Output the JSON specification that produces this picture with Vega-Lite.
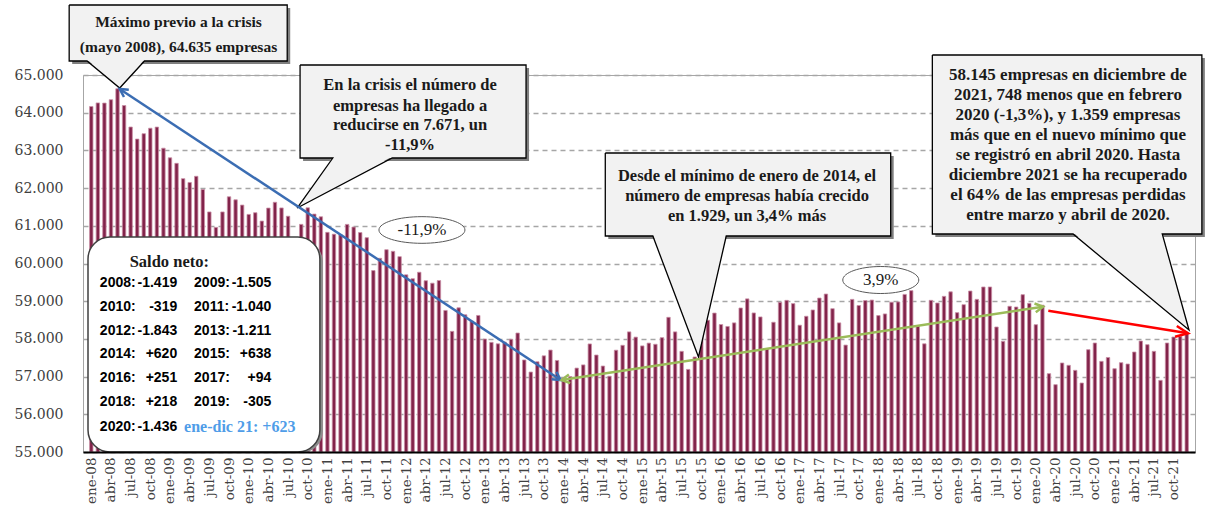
{
  "$schema": "https://vega.github.io/schema/vega-lite/v6.json",
  "width": 1112,
  "height": 377,
  "autosize": {"type": "none"},
  "padding": {"left": 83, "top": 75, "right": 16, "bottom": 62},
  "background": "white",
  "config": {"view": {"stroke": "#a6a6a6", "strokeWidth": 1}, "font": "DejaVu Serif"},
  "datasets": {
    "empresas": [
      {"x":0,"mes":"ene-08","y":64165},{"x":1,"mes":"feb-08","y":64260},{"x":2,"mes":"mar-08","y":64255},{"x":3,"mes":"abr-08","y":64345},{"x":4,"mes":"may-08","y":64635},{"x":5,"mes":"jun-08","y":64190},{"x":6,"mes":"jul-08","y":63620},{"x":7,"mes":"ago-08","y":63300},{"x":8,"mes":"sep-08","y":63443},{"x":9,"mes":"oct-08","y":63588},{"x":10,"mes":"nov-08","y":63618},{"x":11,"mes":"dic-08","y":63058},
      {"x":12,"mes":"ene-09","y":62803},{"x":13,"mes":"feb-09","y":62657},{"x":14,"mes":"mar-09","y":62251},{"x":15,"mes":"abr-09","y":62150},{"x":16,"mes":"may-09","y":62313},{"x":17,"mes":"jun-09","y":61963},{"x":18,"mes":"jul-09","y":61368},{"x":19,"mes":"ago-09","y":60958},{"x":20,"mes":"sep-09","y":61368},{"x":21,"mes":"oct-09","y":61770},{"x":22,"mes":"nov-09","y":61690},{"x":23,"mes":"dic-09","y":61550},
      {"x":24,"mes":"ene-10","y":61302},{"x":25,"mes":"feb-10","y":61347},{"x":26,"mes":"mar-10","y":61126},{"x":27,"mes":"abr-10","y":61470},{"x":28,"mes":"may-10","y":61624},{"x":29,"mes":"jun-10","y":61474},{"x":30,"mes":"jul-10","y":61254},{"x":31,"mes":"ago-10","y":60650},{"x":32,"mes":"sep-10","y":61038},{"x":33,"mes":"oct-10","y":61478},{"x":34,"mes":"nov-10","y":61310},{"x":35,"mes":"dic-10","y":61240},
      {"x":36,"mes":"ene-11","y":60826},{"x":37,"mes":"feb-11","y":60777},{"x":38,"mes":"mar-11","y":60765},{"x":39,"mes":"abr-11","y":61037},{"x":40,"mes":"may-11","y":60966},{"x":41,"mes":"jun-11","y":60821},{"x":42,"mes":"jul-11","y":60685},{"x":43,"mes":"ago-11","y":59812},{"x":44,"mes":"sep-11","y":60138},{"x":45,"mes":"oct-11","y":60367},{"x":46,"mes":"nov-11","y":60323},{"x":47,"mes":"dic-11","y":60182},
      {"x":48,"mes":"ene-12","y":59700},{"x":49,"mes":"feb-12","y":59598},{"x":50,"mes":"mar-12","y":59768},{"x":51,"mes":"abr-12","y":59543},{"x":52,"mes":"may-12","y":59478},{"x":53,"mes":"jun-12","y":59548},{"x":54,"mes":"jul-12","y":58755},{"x":55,"mes":"ago-12","y":58200},{"x":56,"mes":"sep-12","y":58825},{"x":57,"mes":"oct-12","y":58640},{"x":58,"mes":"nov-12","y":58473},{"x":59,"mes":"dic-12","y":58622},
      {"x":60,"mes":"ene-13","y":57997},{"x":61,"mes":"feb-13","y":57909},{"x":62,"mes":"mar-13","y":57870},{"x":63,"mes":"abr-13","y":57915},{"x":64,"mes":"may-13","y":57990},{"x":65,"mes":"jun-13","y":58156},{"x":66,"mes":"jul-13","y":57441},{"x":67,"mes":"ago-13","y":57121},{"x":68,"mes":"sep-13","y":57393},{"x":69,"mes":"oct-13","y":57551},{"x":70,"mes":"nov-13","y":57704},{"x":71,"mes":"dic-13","y":57428},
      {"x":72,"mes":"ene-14","y":56964},{"x":73,"mes":"feb-14","y":57000},{"x":74,"mes":"mar-14","y":57226},{"x":75,"mes":"abr-14","y":57310},{"x":76,"mes":"may-14","y":57866},{"x":77,"mes":"jun-14","y":57572},{"x":78,"mes":"jul-14","y":57280},{"x":79,"mes":"ago-14","y":57010},{"x":80,"mes":"sep-14","y":57700},{"x":81,"mes":"oct-14","y":57830},{"x":82,"mes":"nov-14","y":58186},{"x":83,"mes":"dic-14","y":58047},
      {"x":84,"mes":"ene-15","y":57814},{"x":85,"mes":"feb-15","y":57888},{"x":86,"mes":"mar-15","y":57857},{"x":87,"mes":"abr-15","y":58033},{"x":88,"mes":"may-15","y":58572},{"x":89,"mes":"jun-15","y":58186},{"x":90,"mes":"jul-15","y":57670},{"x":91,"mes":"ago-15","y":57191},{"x":92,"mes":"sep-15","y":57520},{"x":93,"mes":"oct-15","y":58250},{"x":94,"mes":"nov-15","y":58495},{"x":95,"mes":"dic-15","y":58685},
      {"x":96,"mes":"ene-16","y":58381},{"x":97,"mes":"feb-16","y":58330},{"x":98,"mes":"mar-16","y":58425},{"x":99,"mes":"abr-16","y":58820},{"x":100,"mes":"may-16","y":59062},{"x":101,"mes":"jun-16","y":58688},{"x":102,"mes":"jul-16","y":58583},{"x":103,"mes":"ago-16","y":57740},{"x":104,"mes":"sep-16","y":58442},{"x":105,"mes":"oct-16","y":58970},{"x":106,"mes":"nov-16","y":59022},{"x":107,"mes":"dic-16","y":58936},
      {"x":108,"mes":"ene-17","y":58363},{"x":109,"mes":"feb-17","y":58600},{"x":110,"mes":"mar-17","y":58767},{"x":111,"mes":"abr-17","y":59084},{"x":112,"mes":"may-17","y":59190},{"x":113,"mes":"jun-17","y":58802},{"x":114,"mes":"jul-17","y":58425},{"x":115,"mes":"ago-17","y":57836},{"x":116,"mes":"sep-17","y":59048},{"x":117,"mes":"oct-17","y":58886},{"x":118,"mes":"nov-17","y":59018},{"x":119,"mes":"dic-17","y":59030},
      {"x":120,"mes":"ene-18","y":58618},{"x":121,"mes":"feb-18","y":58662},{"x":122,"mes":"mar-18","y":58974},{"x":123,"mes":"abr-18","y":58980},{"x":124,"mes":"may-18","y":59180},{"x":125,"mes":"jun-18","y":59280},{"x":126,"mes":"jul-18","y":58338},{"x":127,"mes":"ago-18","y":57870},{"x":128,"mes":"sep-18","y":59023},{"x":129,"mes":"oct-18","y":58952},{"x":130,"mes":"nov-18","y":59129},{"x":131,"mes":"dic-18","y":59248},
      {"x":132,"mes":"ene-19","y":58696},{"x":133,"mes":"feb-19","y":58908},{"x":134,"mes":"mar-19","y":59270},{"x":135,"mes":"abr-19","y":59049},{"x":136,"mes":"may-19","y":59377},{"x":137,"mes":"jun-19","y":59377},{"x":138,"mes":"jul-19","y":58316},{"x":139,"mes":"ago-19","y":57935},{"x":140,"mes":"sep-19","y":58864},{"x":141,"mes":"oct-19","y":58846},{"x":142,"mes":"nov-19","y":59173},{"x":143,"mes":"dic-19","y":58943},
      {"x":144,"mes":"ene-20","y":58377},{"x":145,"mes":"feb-20","y":58893},{"x":146,"mes":"mar-20","y":57078},{"x":147,"mes":"abr-20","y":56786},{"x":148,"mes":"may-20","y":57361},{"x":149,"mes":"jun-20","y":57299},{"x":150,"mes":"jul-20","y":57166},{"x":151,"mes":"ago-20","y":56830},{"x":152,"mes":"sep-20","y":57714},{"x":153,"mes":"oct-20","y":57891},{"x":154,"mes":"nov-20","y":57405},{"x":155,"mes":"dic-20","y":57507},
      {"x":156,"mes":"ene-21","y":57210},{"x":157,"mes":"feb-21","y":57369},{"x":158,"mes":"mar-21","y":57334},{"x":159,"mes":"abr-21","y":57652},{"x":160,"mes":"may-21","y":57944},{"x":161,"mes":"jun-21","y":57847},{"x":162,"mes":"jul-21","y":57670},{"x":163,"mes":"ago-21","y":56901},{"x":164,"mes":"sep-21","y":57891},{"x":165,"mes":"oct-21","y":58050},{"x":166,"mes":"nov-21","y":58068},{"x":167,"mes":"dic-21","y":58145}
    ],
    "saldo_caja": [{"x": -0.5, "x2": 34.85, "y": 60703, "y2": 55000}],
    "cajas": [
      {"g": "c1", "x": -3.37, "x2": 29.87, "y": 66857, "y2": 65371},
      {"g": "c2", "x": 31.83, "x2": 66.28, "y": 65265, "y2": 62798},
      {"g": "c3", "x": 78.36, "x2": 121.87, "y": 62931, "y2": 60729},
      {"g": "c4", "x": 128.22, "x2": 169.31, "y": 65531, "y2": 60783}
    ],
    "triangulos": [
      {"g": "c1", "x": -0.65, "y": 65411, "y2": 65411},
      {"g": "c1", "x": 4.33, "y": 65411, "y2": 64655},
      {"g": "c1", "x": 8.11, "y": 65411, "y2": 65411},
      {"g": "c2", "x": 31.38, "y": 61472, "y2": 61472},
      {"g": "c2", "x": 36.82, "y": 62838, "y2": 61984},
      {"g": "c2", "x": 45.88, "y": 62838, "y2": 62838},
      {"g": "c3", "x": 85.61, "y": 60769, "y2": 60769},
      {"g": "c3", "x": 92.57, "y": 60769, "y2": 57520},
      {"g": "c3", "x": 96.8, "y": 60769, "y2": 60769},
      {"g": "c4", "x": 149.67, "y": 60823, "y2": 60823},
      {"g": "c4", "x": 163.27, "y": 60823, "y2": 58824},
      {"g": "c4", "x": 167.35, "y": 58236, "y2": 58236}
    ],
    "contornos": [
      {"g": "c1", "o": 0, "x": -3.37, "y": 66857}, {"g": "c1", "o": 1, "x": 29.87, "y": 66857}, {"g": "c1", "o": 2, "x": 29.87, "y": 65371}, {"g": "c1", "o": 3, "x": 8.11, "y": 65371}, {"g": "c1", "o": 4, "x": 4.33, "y": 64655}, {"g": "c1", "o": 5, "x": -0.65, "y": 65371}, {"g": "c1", "o": 6, "x": -3.37, "y": 65371}, {"g": "c1", "o": 7, "x": -3.37, "y": 66857},
      {"g": "c2", "o": 0, "x": 31.83, "y": 65265}, {"g": "c2", "o": 1, "x": 66.28, "y": 65265}, {"g": "c2", "o": 2, "x": 66.28, "y": 62798}, {"g": "c2", "o": 3, "x": 45.88, "y": 62798}, {"g": "c2", "o": 4, "x": 31.38, "y": 61472}, {"g": "c2", "o": 5, "x": 36.82, "y": 62798}, {"g": "c2", "o": 6, "x": 31.83, "y": 62798}, {"g": "c2", "o": 7, "x": 31.83, "y": 65265},
      {"g": "c3", "o": 0, "x": 78.36, "y": 62931}, {"g": "c3", "o": 1, "x": 121.87, "y": 62931}, {"g": "c3", "o": 2, "x": 121.87, "y": 60729}, {"g": "c3", "o": 3, "x": 96.8, "y": 60729}, {"g": "c3", "o": 4, "x": 92.57, "y": 57520}, {"g": "c3", "o": 5, "x": 85.61, "y": 60729}, {"g": "c3", "o": 6, "x": 78.36, "y": 60729}, {"g": "c3", "o": 7, "x": 78.36, "y": 62931},
      {"g": "c4", "o": 0, "x": 128.22, "y": 65531}, {"g": "c4", "o": 1, "x": 169.31, "y": 65531}, {"g": "c4", "o": 2, "x": 169.31, "y": 60783}, {"g": "c4", "o": 3, "x": 163.27, "y": 60783}, {"g": "c4", "o": 4, "x": 167.35, "y": 58236}, {"g": "c4", "o": 5, "x": 149.67, "y": 60783}, {"g": "c4", "o": 6, "x": 128.22, "y": 60783}, {"g": "c4", "o": 7, "x": 128.22, "y": 65531}
    ],
    "flechas": [
      {"g": "azul", "x": 4.33, "y": 64630}, {"g": "azul", "x": 71.56, "y": 56910},
      {"g": "verde", "x": 71.7, "y": 56910}, {"g": "verde", "x": 145.1, "y": 58854},
      {"g": "rojo", "x": 145.9, "y": 58749}, {"g": "rojo", "x": 167.2, "y": 58148}
    ],
    "textos_c1": [
      {"x": 13.3, "y": 66406, "t": "Máximo  previo  a la crisis"},
      {"x": 13.3, "y": 65755, "t": "(mayo 2008), 64.635 empresas"}
    ],
    "textos": [
      {"x": 48.6, "y": 64735, "t": "En la crisis el número de"},
      {"x": 48.6, "y": 64186, "t": "empresas ha llegado a"},
      {"x": 48.6, "y": 63674, "t": "reducirse en 7.671, un"},
      {"x": 48.6, "y": 63143, "t": "-11,9%"},
      {"x": 99.97, "y": 62321, "t": "Desde el mínimo de enero de 2014, el"},
      {"x": 99.97, "y": 61790, "t": "número de empresas había crecido"},
      {"x": 99.97, "y": 61260, "t": "en 1.929, un 3,4% más"},
      {"x": 11.9, "y": 60040, "t": "Saldo neto:"}
    ],
    "textos_c4": [
      {"x": 148.9, "y": 65000, "t": "58.145 empresas en diciembre de"},
      {"x": 148.9, "y": 64470, "t": "2021, 748 menos que en febrero"},
      {"x": 148.9, "y": 63939, "t": "2020 (-1,3%), y 1.359 empresas"},
      {"x": 148.9, "y": 63409, "t": "más que en el nuevo mínimo que"},
      {"x": 148.9, "y": 62878, "t": "se registró en abril 2020. Hasta"},
      {"x": 148.9, "y": 62348, "t": "diciembre 2021 se ha recuperado"},
      {"x": 148.9, "y": 61817, "t": "el 64% de las empresas perdidas"},
      {"x": 148.9, "y": 61287, "t": "entre marzo y abril de 2020."}
    ],
    "saldo_etiquetas": [
      {"x": 1.31, "y": 59475, "t": "2008:"}, {"x": 15.67, "y": 59475, "t": "2009:"},
      {"x": 1.31, "y": 58838, "t": "2010:"}, {"x": 15.67, "y": 58838, "t": "2011:"},
      {"x": 1.31, "y": 58217, "t": "2012:"}, {"x": 15.67, "y": 58217, "t": "2013:"},
      {"x": 1.31, "y": 57600, "t": "2014:"}, {"x": 15.67, "y": 57600, "t": "2015:"},
      {"x": 1.31, "y": 56955, "t": "2016:"}, {"x": 15.67, "y": 56955, "t": "2017:"},
      {"x": 1.31, "y": 56334, "t": "2018:"}, {"x": 15.67, "y": 56334, "t": "2019:"},
      {"x": 1.31, "y": 55671, "t": "2020:"}
    ],
    "saldo_valores": [
      {"x": 13.1, "y": 59475, "t": "-1.419"}, {"x": 27.45, "y": 59475, "t": "-1.505"},
      {"x": 13.1, "y": 58838, "t": "-319"}, {"x": 27.45, "y": 58838, "t": "-1.040"},
      {"x": 13.1, "y": 58217, "t": "-1.843"}, {"x": 27.45, "y": 58217, "t": "-1.211"},
      {"x": 13.1, "y": 57600, "t": "+620"}, {"x": 27.45, "y": 57600, "t": "+638"},
      {"x": 13.1, "y": 56955, "t": "+251"}, {"x": 27.45, "y": 56955, "t": "+94"},
      {"x": 13.1, "y": 56334, "t": "+218"}, {"x": 27.45, "y": 56334, "t": "-305"},
      {"x": 13.1, "y": 55671, "t": "-1.436"}
    ]
  },
  "encoding": {
    "x": {
      "field": "x", "type": "quantitative",
      "scale": {"domain": [-0.5, 167.5], "nice": false, "zero": false},
      "axis": {
        "title": null,
        "values": [0,3,6,9,12,15,18,21,24,27,30,33,36,39,42,45,48,51,54,57,60,63,66,69,72,75,78,81,84,87,90,93,96,99,102,105,108,111,114,117,120,123,126,129,132,135,138,141,144,147,150,153,156,159,162,165],
        "labelExpr": "['ene','feb','mar','abr','may','jun','jul','ago','sep','oct','nov','dic'][datum.value % 12] + '-' + (datum.value < 24 ? '0' : '') + toString(floor(datum.value / 12) + 8)",
        "labelAngle": -90,
        "labelFont": "DejaVu Serif",
        "labelFontSize": 13.5,
        "labelColor": "#404040",
        "labelPadding": 5,
        "ticks": false,
        "grid": false,
        "domainColor": "#000000",
        "domainWidth": 2,
        "labelOverlap": false,
        "labelBound": false,
        "labelFlush": false,
        "zindex": 1
      }
    },
    "y": {
      "field": "y", "type": "quantitative",
      "scale": {"domain": [55000, 65000], "nice": false, "zero": false},
      "axis": {
        "title": null,
        "values": [55000,56000,57000,58000,59000,60000,61000,62000,63000,64000,65000],
        "labelExpr": "replace(format(datum.value, ','), ',', '.')",
        "labelFont": "DejaVu Serif",
        "labelFontSize": 14,
        "labelColor": "#404040",
        "labelPadding": 20,
        "labelOverlap": false,
        "ticks": false,
        "domain": false,
        "grid": true,
        "gridColor": "#a6a6a6",
        "gridDash": [5, 4],
        "gridWidth": 1.4
      }
    }
  },
  "layer": [
    {
      "data": {"name": "empresas"},
      "mark": {"type": "bar", "width": 3.4, "fill": "#82234a", "stroke": "#c98fa6", "strokeWidth": 0.8},
      "encoding": {"y2": {"datum": 55000}}
    },
    {
      "data": {"name": "saldo_caja"},
      "mark": {"type": "rect", "cornerRadius": 22, "fill": "#8c8c8c", "xOffset": 3, "x2Offset": 3, "yOffset": 3, "y2Offset": 1},
      "encoding": {"x2": {"field": "x2"}, "y2": {"field": "y2"}}
    },
    {
      "data": {"name": "saldo_caja"},
      "mark": {"type": "rect", "cornerRadius": 22, "fill": "#ffffff", "stroke": "#404040", "strokeWidth": 1.5},
      "encoding": {"x2": {"field": "x2"}, "y2": {"field": "y2"}}
    },
    {
      "data": {"name": "cajas"},
      "mark": {"type": "rect", "fill": "#7f7f7f", "xOffset": 3, "x2Offset": 3, "yOffset": 3, "y2Offset": 3},
      "encoding": {"x2": {"field": "x2"}, "y2": {"field": "y2"}}
    },
    {
      "data": {"name": "cajas"},
      "mark": {"type": "rect", "fill": "#f2f2f2"},
      "encoding": {"x2": {"field": "x2"}, "y2": {"field": "y2"}}
    },
    {
      "data": {"name": "triangulos"},
      "mark": {"type": "area", "fill": "#f2f2f2", "opacity": 1},
      "encoding": {"y2": {"field": "y2"}, "detail": {"field": "g"}}
    },
    {
      "data": {"name": "contornos"},
      "mark": {"type": "line", "color": "#000000", "strokeWidth": 1.3, "strokeJoin": "miter"},
      "encoding": {"detail": {"field": "g"}, "order": {"field": "o"}}
    },
    {
      "data": {"name": "flechas"},
      "mark": {"type": "line", "strokeWidth": 2.5},
      "encoding": {
        "color": {"field": "g", "type": "nominal", "scale": {"domain": ["azul", "verde", "rojo"], "range": ["#3b6db3", "#9bbb59", "#ff0000"]}, "legend": null}
      }
    },
    {
      "data": {"values": [{"x": 71.56, "y": 56910}]},
      "mark": {"type": "point", "shape": "M -1 -0.55 L 0 0 L -1 0.55", "angle": 33.2, "size": 256, "filled": false, "stroke": "#3b6db3", "strokeWidth": 2.5, "opacity": 1},
      "encoding": {}
    },
    {
      "data": {"values": [{"x": 4.33, "y": 64630}]},
      "mark": {"type": "point", "shape": "M -1 -0.55 L 0 0 L -1 0.55", "angle": 213.2, "size": 256, "filled": false, "stroke": "#3b6db3", "strokeWidth": 2.5, "opacity": 1},
      "encoding": {}
    },
    {
      "data": {"values": [{"x": 71.7, "y": 56910}]},
      "mark": {"type": "point", "shape": "M -1 -0.55 L 0 0 L -1 0.55", "angle": 171.5, "size": 256, "filled": false, "stroke": "#9bbb59", "strokeWidth": 2.5, "opacity": 1},
      "encoding": {}
    },
    {
      "data": {"values": [{"x": 145.1, "y": 58854}]},
      "mark": {"type": "point", "shape": "M -1 -0.55 L 0 0 L -1 0.55", "angle": -8.5, "size": 256, "filled": false, "stroke": "#9bbb59", "strokeWidth": 2.5, "opacity": 1},
      "encoding": {}
    },
    {
      "data": {"values": [{"x": 167.2, "y": 58148}]},
      "mark": {"type": "point", "shape": "M -1 -0.45 L 0 0 L -1 0.45", "angle": 9.1, "size": 600, "filled": false, "stroke": "#ff0000", "strokeWidth": 2.5, "opacity": 1},
      "encoding": {}
    },
    {
      "data": {"values": [{"x": 50.41, "y": 60889}]},
      "mark": {"type": "point", "shape": "M -1 0 A 1 0.31 0 1 0 1 0 A 1 0.31 0 1 0 -1 0 Z", "size": 7396, "filled": true, "fill": "#ffffff", "stroke": "#595959", "strokeWidth": 1, "opacity": 1},
      "encoding": {}
    },
    {
      "data": {"values": [{"x": 120.36, "y": 59562}]},
      "mark": {"type": "point", "shape": "M -1 0 A 1 0.355 0 1 0 1 0 A 1 0.355 0 1 0 -1 0 Z", "size": 5776, "filled": true, "fill": "#ffffff", "stroke": "#595959", "strokeWidth": 1, "opacity": 1},
      "encoding": {}
    },
    {
      "data": {"values": [{"x": 50.41, "y": 60889, "t": "-11,9%"}, {"x": 120.36, "y": 59562, "t": "3,9%"}]},
      "mark": {"type": "text", "font": "Liberation Serif", "fontSize": 17, "align": "center", "baseline": "middle", "color": "#1a1a1a"},
      "encoding": {"text": {"field": "t"}}
    },
    {
      "data": {"name": "textos_c1"},
      "mark": {"type": "text", "font": "Liberation Serif", "fontWeight": "bold", "fontSize": 15.5, "align": "center", "baseline": "middle", "color": "#1a1a1a"},
      "encoding": {"text": {"field": "t"}}
    },
    {
      "data": {"name": "textos"},
      "mark": {"type": "text", "font": "Liberation Serif", "fontWeight": "bold", "fontSize": 16.5, "align": "center", "baseline": "middle", "color": "#1a1a1a"},
      "encoding": {"text": {"field": "t"}}
    },
    {
      "data": {"name": "textos_c4"},
      "mark": {"type": "text", "font": "Liberation Serif", "fontWeight": "bold", "fontSize": 17, "align": "center", "baseline": "middle", "color": "#1a1a1a"},
      "encoding": {"text": {"field": "t"}}
    },
    {
      "data": {"name": "saldo_etiquetas"},
      "mark": {"type": "text", "font": "Liberation Sans", "fontWeight": "bold", "fontSize": 14, "align": "left", "baseline": "middle", "color": "#000000"},
      "encoding": {"text": {"field": "t"}}
    },
    {
      "data": {"name": "saldo_valores"},
      "mark": {"type": "text", "font": "Liberation Sans", "fontWeight": "bold", "fontSize": 14, "align": "right", "baseline": "middle", "color": "#000000"},
      "encoding": {"text": {"field": "t"}}
    },
    {
      "data": {"values": [{"x": 14.15, "y": 55671, "t": "ene-dic 21: +623"}]},
      "mark": {"type": "text", "font": "Liberation Serif", "fontWeight": "bold", "fontSize": 16, "align": "left", "baseline": "middle", "color": "#4f9de8"},
      "encoding": {"text": {"field": "t"}}
    }
  ]
}
